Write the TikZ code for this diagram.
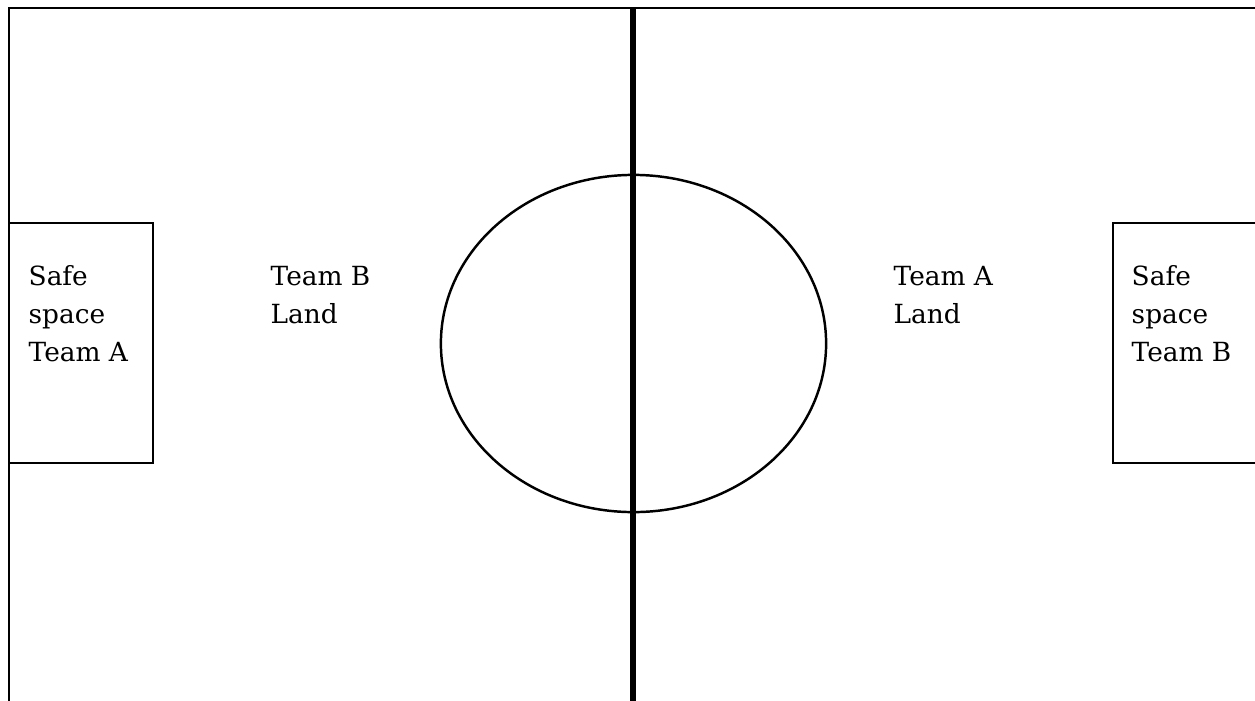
\documentclass[tikz,border=0pt]{standalone}
\usepackage{fontspec}
\setmainfont{DejaVu Serif}
\usetikzlibrary{positioning}

\begin{document}
\begin{tikzpicture}[
  x=0.01cm, y=-0.01cm,
  every node/.style={font=\fontsize{7.5pt}{10.7pt}\selectfont},
  lbl/.style={anchor=north west, align=left, inner sep=0pt},
  edge/.style={line width=0.7pt},
  midline/.style={line width=1.8pt}
]
% page frame
\clip (0,0) rectangle (1255,700);
\fill[white] (0,0) rectangle (1255,700);
% the field
\draw[edge] (9,8) rectangle (1275,720);
\draw[edge] (633.5,343.5) ellipse [x radius=1.925cm, y radius=1.685cm];
\draw[midline] (633,8) -- (633,720);
% safe spaces
\draw[edge] (9,223) rectangle (153,463);
\draw[edge] (1113,223) rectangle (1275,463);
% labels
\node[lbl] (safeA) at (28,265) {Safe\\ space\\ Team A};
\node[lbl] (landB) at (270,266) {Team B\\ Land};
\node[lbl] (landA) at (893,266) {Team A\\ Land};
\node[lbl] (safeB) at (1131,265) {Safe\\ space\\ Team B};
\end{tikzpicture}
\end{document}
